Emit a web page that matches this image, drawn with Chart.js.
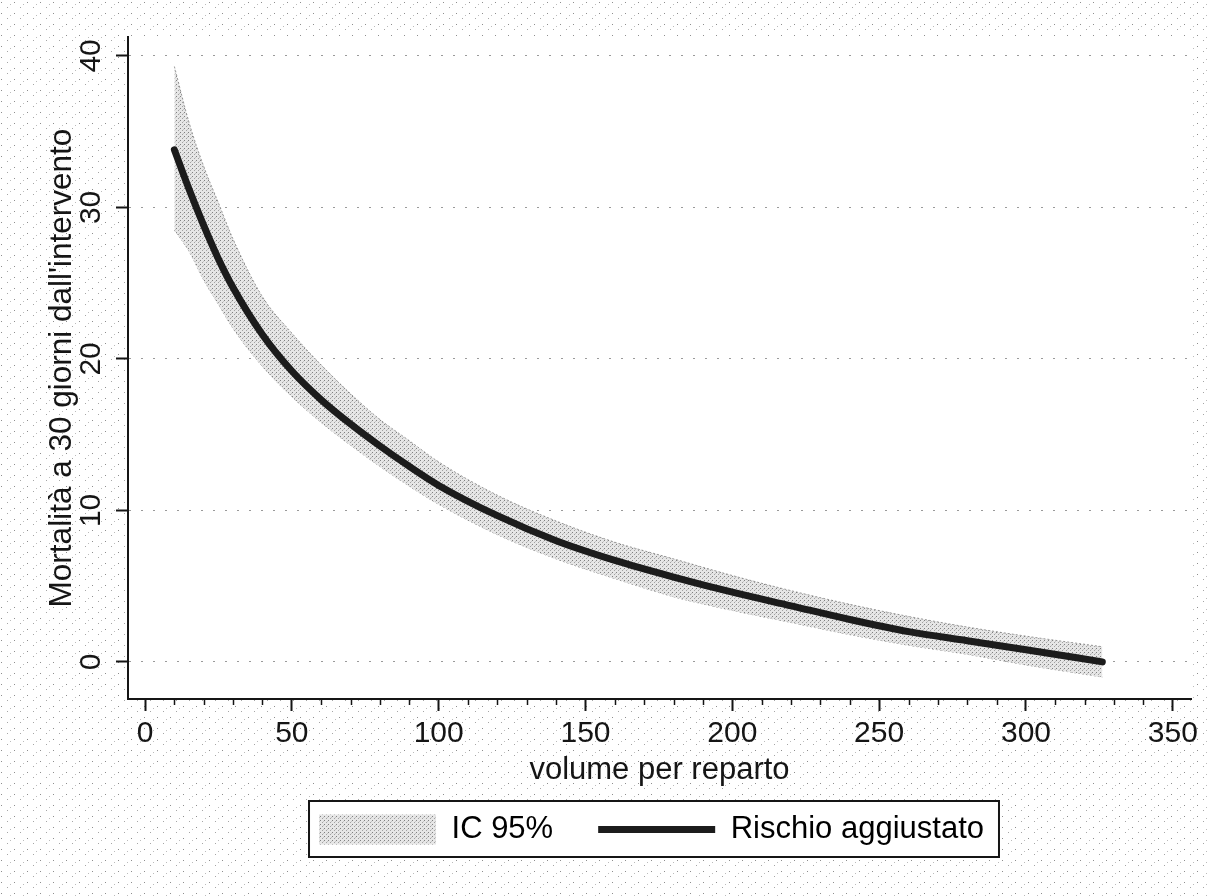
<!DOCTYPE html>
<html lang="it">
<head>
<meta charset="utf-8">
<title>Mortalità a 30 giorni e volume per reparto</title>
<script src="https://cdn.jsdelivr.net/npm/chart.js@4.4.1/dist/chart.umd.min.js"></script>
<style>
  html, body { margin: 0; padding: 0; background: #fff; }
  #wrap { width: 1209px; height: 896px; }
</style>
</head>
<body>
<div id="wrap"><canvas id="chart" width="1209" height="896"></canvas></div>
<script>
'use strict';

// ── Values ─────────────────────────────────────────────────────────────────
var volume  = [10, 15, 20, 25, 30, 40, 50, 60, 70, 80, 90, 100, 120, 140, 160, 180, 200, 220, 240, 260, 280, 300, 326];
var rischio = [33.8, 31.2, 28.8, 26.6, 24.7, 21.6, 19.2, 17.3, 15.7, 14.25, 12.9, 11.65, 9.65, 8.0, 6.7, 5.6, 4.6, 3.7, 2.8, 2.0, 1.4, 0.8, 0.0];
var icSup   = [39.3, 35.6, 32.7, 30.3, 27.9, 24.1, 21.7, 19.6, 17.7, 16.0, 14.6, 13.2, 11.0, 9.3, 7.9, 6.8, 5.7, 4.7, 3.8, 3.0, 2.3, 1.7, 1.0];
var icInf   = [28.5, 27.1, 25.2, 23.6, 22.0, 19.5, 17.5, 15.8, 14.3, 12.9, 11.6, 10.4, 8.4, 6.8, 5.5, 4.3, 3.4, 2.6, 1.8, 1.1, 0.5, -0.2, -1.0];

var xTicks = [0, 50, 100, 150, 200, 250, 300, 350];
var yTicks = [0, 10, 20, 30, 40];
var xMinorStep = 10;

var FONT = '"Liberation Sans", Arial, Helvetica, sans-serif';
var INK = '#151515';

function points(ys) {
  return volume.map(function (v, i) { return { x: v, y: ys[i] }; });
}

// small stippled tiles to imitate the scanned halftone
function makePattern(w, h, base, dots) {
  var c = document.createElement('canvas');
  c.width = w; c.height = h;
  var g = c.getContext('2d');
  if (base) { g.fillStyle = base; g.fillRect(0, 0, w, h); }
  dots.forEach(function (d) {
    g.fillStyle = d[2];
    g.fillRect(d[0], d[1], 1, 1);
  });
  return g.createPattern(c, 'repeat');
}

var bandFill = makePattern(4, 4, '#e6e6e6', [[0, 0, '#808080'], [2, 2, '#a2a2a2'], [3, 1, '#c4c4c4']]);
var paperFill = makePattern(13, 11, '#ffffff', [[1, 2, '#8e8e8e'], [7, 7, '#a6a6a6'], [10, 4, '#bcbcbc']]);

// ── Plugins ────────────────────────────────────────────────────────────────
var paper = {
  id: 'paper',
  afterLayout: function (chart) {
    // centre the legend under the plot area, as in the original
    var lg = chart.legend, ca = chart.chartArea;
    lg.left = ca.left - 8;
    lg.right = ca.right - 8;
    lg.width = lg.right - lg.left;
  },
  beforeDraw: function (chart) {
    var ctx = chart.ctx, ca = chart.chartArea;
    ctx.save();
    ctx.fillStyle = paperFill;
    ctx.fillRect(0, 0, chart.width, chart.height);
    ctx.fillStyle = '#fff';
    ctx.fillRect(ca.left, ca.top, ca.right - ca.left, ca.bottom - ca.top);
    var f = legendFrame(chart);
    if (f) ctx.fillRect(f.x, f.y, f.w, f.h);
    ctx.restore();
  },
  afterDraw: function (chart) {
    var ctx = chart.ctx, sx = chart.scales.x;
    ctx.save();
    ctx.strokeStyle = INK;
    ctx.lineWidth = 1.5;
    for (var v = xTicks[0] + xMinorStep; v < xTicks[xTicks.length - 1]; v += xMinorStep) {
      if (xTicks.indexOf(v) !== -1) continue;
      var px = Math.round(sx.getPixelForValue(v)) + 0.5;
      ctx.beginPath();
      ctx.moveTo(px, sx.top);
      ctx.lineTo(px, sx.top + 6);
      ctx.stroke();
    }
    var f = legendFrame(chart);
    if (f) {
      ctx.lineWidth = 2;
      ctx.strokeRect(f.x, f.y, f.w, f.h);
    }
    ctx.restore();
  }
};

function legendFrame(chart) {
  var hb = chart.legend && chart.legend.legendHitBoxes;
  if (!hb || !hb.length) return null;
  var last = hb[hb.length - 1];
  var x = hb[0].left - 10;
  var y = hb[0].top - 13;
  return { x: x, y: y, w: last.left + last.width + 15 - x, h: hb[0].height + 25 };
}

// ── Chart ──────────────────────────────────────────────────────────────────
new Chart(document.getElementById('chart'), {
  type: 'line',
  data: {
    datasets: [{
      label: 'IC 95%',
      data: points(icSup),
      borderColor: 'rgba(120,120,120,0.75)',
      borderWidth: 1,
      borderDash: [2, 2],
      backgroundColor: bandFill,
      fill: '+1',
      pointRadius: 0,
      cubicInterpolationMode: 'monotone',
      order: 2
    }, {
      label: 'IC 95% inf',
      data: points(icInf),
      borderColor: 'rgba(120,120,120,0.75)',
      borderWidth: 1,
      borderDash: [2, 2],
      fill: false,
      pointRadius: 0,
      cubicInterpolationMode: 'monotone',
      order: 3
    }, {
      label: 'Rischio aggiustato',
      data: points(rischio),
      borderColor: '#1c1c1c',
      borderWidth: 7,
      borderCapStyle: 'round',
      fill: false,
      pointRadius: 0,
      cubicInterpolationMode: 'monotone',
      order: 1
    }]
  },
  options: {
    responsive: false,
    animation: false,
    devicePixelRatio: 1,
    layout: { padding: { left: 0, right: 18, top: 37, bottom: 41 } },
    plugins: {
      tooltip: { enabled: false },
      legend: {
        position: 'bottom',
        labels: {
          usePointStyle: true,
          pointStyleWidth: 117,
          boxHeight: 30,
          padding: 45,
          color: INK,
          font: { family: FONT, size: 31 },
          generateLabels: function () {
            return [
              { text: 'IC 95%', fillStyle: bandFill, strokeStyle: 'rgba(0,0,0,0)', lineWidth: 0, pointStyle: 'rect', datasetIndex: 0, hidden: false },
              { text: 'Rischio aggiustato', fillStyle: '#1c1c1c', strokeStyle: '#1c1c1c', lineWidth: 7, pointStyle: 'line', datasetIndex: 2, hidden: false }
            ];
          }
        }
      }
    },
    scales: {
      x: {
        type: 'linear',
        min: -5.8,
        max: 356.2,
        afterBuildTicks: function (scale) {
          scale.ticks = xTicks.map(function (v) { return { value: v }; });
        },
        afterFit: function (scale) { scale.height = 70; },
        ticks: {
          color: INK,
          padding: 8,
          maxRotation: 0,
          font: { family: FONT, size: 30, lineHeight: 1 }
        },
        grid: {
          drawOnChartArea: false,
          drawTicks: true,
          tickLength: 12,
          tickWidth: 2,
          tickColor: INK
        },
        border: { display: true, color: INK, width: 2 },
        title: {
          display: true,
          text: 'volume per reparto',
          color: INK,
          padding: { top: 0, bottom: -16.5 },
          font: { family: FONT, size: 31, lineHeight: 1 }
        }
      },
      y: {
        type: 'linear',
        min: -2.45,
        max: 41.25,
        afterBuildTicks: function (scale) {
          scale.ticks = yTicks.map(function (v) { return { value: v }; });
        },
        afterFit: function (scale) { scale.width = 128; },
        ticks: {
          color: INK,
          padding: 8,
          minRotation: 90,
          maxRotation: 90,
          crossAlign: 'center',
          font: { family: FONT, size: 30, lineHeight: 1 }
        },
        grid: {
          color: '#9a9a9a',
          lineWidth: 1,
          drawTicks: true,
          tickLength: 12,
          tickWidth: 2,
          tickColor: INK
        },
        border: { display: true, color: INK, width: 2, dash: [2, 10] },
        title: {
          display: true,
          text: 'Mortalità a 30 giorni dall\'intervento',
          color: INK,
          padding: { top: 46.5, bottom: 0 },
          font: { family: FONT, size: 31.5, lineHeight: 1 }
        }
      }
    }
  },
  plugins: [paper]
});
</script>
</body>
</html>
